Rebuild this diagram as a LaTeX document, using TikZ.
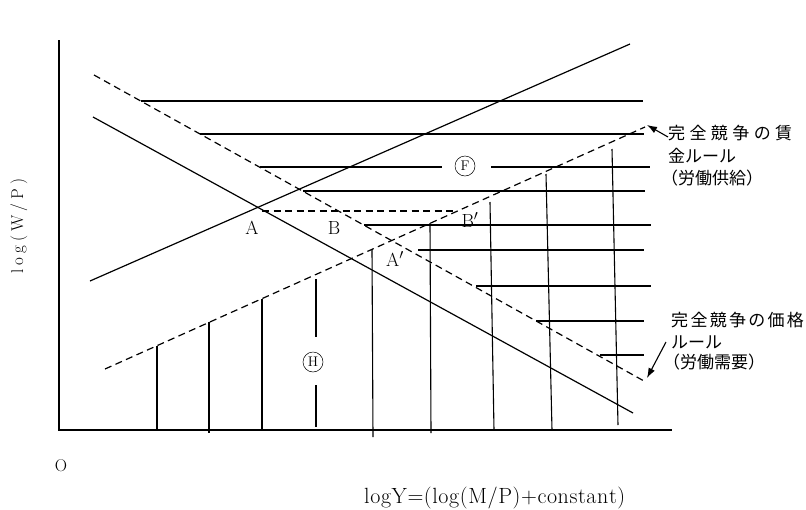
\documentclass[tikz,border=0pt]{standalone}
\usepackage{fontspec}
\usepackage{tikz}
\usetikzlibrary{positioning,calc}
\usetikzlibrary{arrows.meta}
\newfontfamily\jpfont{Noto Sans CJK JP}
\newdimen\letgap
\def\spacedtext#1#2{\letgap=#1\spacedaux#2\relax}
\def\spacedaux#1{\ifx\relax#1\else#1\kern\letgap\expandafter\spacedaux\fi}
\tikzset{
  axis/.style={draw=black,line width=1.6pt},
  curve/.style={draw=black,line width=1.2pt},
  dcurve/.style={draw=black,line width=1.2pt,dash pattern=on 7pt off 4.5pt},
  hatch/.style={draw=black,line width=1.1pt},
  hatchb/.style={draw=black,line width=1.9pt},
}
\tikzset{lab/.style={inner sep=0pt,font=\fontsize{19}{19}\selectfont},
  circ/.style={circle,draw=black,line width=0.5pt,inner sep=0.5pt,minimum size=20pt,font=\fontsize{14}{14}\selectfont},
  note/.style={inner sep=0pt,anchor=west,font=\jpfont\fontsize{17}{19}\selectfont},
  pointer/.style={draw=black,line width=1.1pt,-{Latex[length=10pt,width=7pt]}}}

\begin{document}
\begin{tikzpicture}[x=1pt,y=-1pt]
\useasboundingbox (0,0) rectangle (806,509);
\coordinate (O) at (59,430);
\coordinate (ytop) at (59,40);
\coordinate (xend) at (672,430);
\coordinate (s1) at (90,281);
\coordinate (s2) at (630,44);
\coordinate (d1) at (93,117);
\coordinate (d2) at (633,413);
\coordinate (ds1) at (105,369);
\coordinate (ds2) at (645,127);
\coordinate (dd1) at (94,75);
\coordinate (dd2) at (644,381);
\coordinate (pA) at (262,211);
\coordinate (pBp) at (457,211);
\coordinate (stip) at (647,125);
\coordinate (dtip) at (647,378);
\draw[axis] (ytop) -- (O) -- (xend);
\draw[hatch] (141,101) -- (643,101);
\draw[hatch] (200,134) -- (644,134);
\draw[hatch] (260,167) -- (442,167);
\draw[hatch] (491,167) -- (650,167);
\draw[hatchb] (303,191) -- (645,191);
\draw[hatch] (364,225) -- (651,225);
\draw[hatch] (418,250) -- (644,250);
\draw[hatchb] (476,286) -- (651,286);
\draw[hatchb] (536,321) -- (644,321);
\draw[hatchb] (600,355) -- (644,355);
\draw[hatchb] (157,346) -- (157,430);
\draw[hatchb] (209,322) -- (209,433);
\draw[hatchb] (262,299) -- (262,430);
\draw[hatchb] (316,279) -- (316,337);
\draw[hatchb] (316,385) -- (316,427);
\draw[hatch] (372,249) -- (373,437);
\draw[hatch] (430,223) -- (431,433);
\draw[hatch] (490,202) -- (494,430);
\draw[hatch] (546,174) -- (552,430);
\draw[hatch] (612,149) -- (618,425);
\draw[curve] (s1) -- (s2);
\draw[curve] (d1) -- (d2);
\draw[dcurve] (ds1) -- (ds2);
\draw[dcurve] (dd1) -- (dd2);
\draw[dcurve] (pA) -- (pBp);
\node[lab] (lA) at (252,228) {A};
\node[lab] (lB) at (334,228) {B};
\node[lab] (lBp) at (470,220) {B$'$};
\node[lab] (lAp) at (395,259) {A$'$};
\node[circ] (F) at (465,166) {F};
\node[circ] (H) at (313,362) {H};
\node[inner sep=0pt,font=\fontsize{17}{17}\selectfont] (lO) at (61,466) {O};
\node[inner sep=0pt,rotate=90,font=\fontsize{17}{17}\selectfont] (ylab) at (19,224)
  {\spacedtext{4pt}{log(W/P)}};
\node[inner sep=0pt,font=\fontsize{22}{22}\selectfont] (xlab) at (495,498)
  {\spacedtext{0.6pt}{logY=(log(M/P)+constant)}};
\node[note] (supA) at (668,133) {\spacedtext{4.4pt}{完全競争の賃}};
\node[note] (supB) at (668,156) {金ルール};
\node[note] (supC) at (661,178) {（労働供給）};
\node[note] (demA) at (671,320) {\spacedtext{2.3pt}{完全競争の価格}};
\node[note] (demB) at (671,342) {ルール};
\node[note] (demC) at (663,362) {（労働需要）};
\draw[pointer] ([yshift=-4pt]supA.west) -- (stip);
\draw[pointer] ([xshift=-5pt]demB.west) -- (dtip);
\end{tikzpicture}
\end{document}
